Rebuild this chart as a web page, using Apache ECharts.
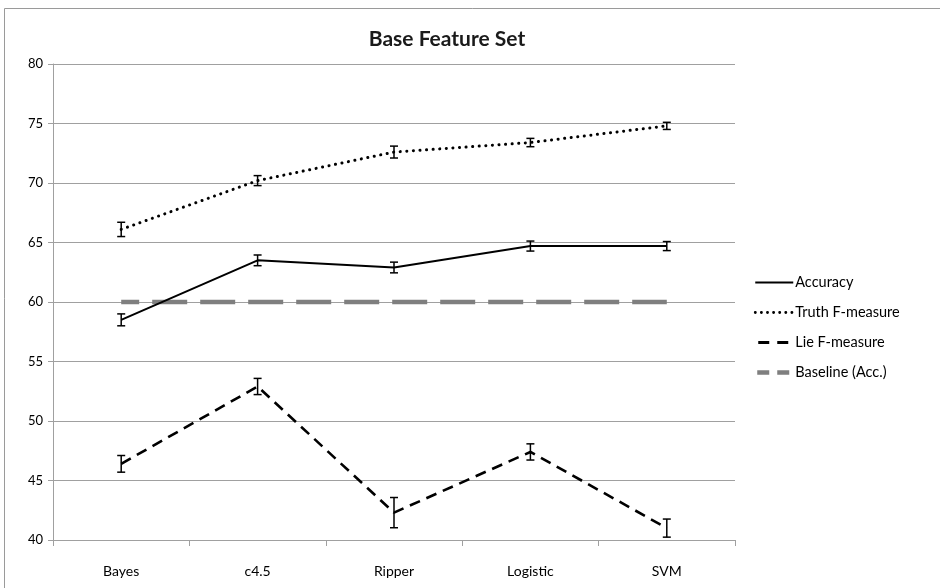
<!DOCTYPE html>
<html>
<head>
<meta charset="utf-8">
<style>
  html, body { margin: 0; padding: 0; background: #ffffff; }
  #chart { width: 940px; height: 588px; }
</style>
<script src="https://cdn.jsdelivr.net/npm/echarts@6/dist/echarts.min.js"></script>
</head>
<body>
<div id="chart"></div>
<script>
// Classifier results on the base feature set
const classifiers = ['Bayes', 'c4.5', 'Ripper', 'Logistic', 'SVM'];

const accuracy    = [58.5, 63.5, 62.9, 64.7, 64.7];
const accuracyErr = [0.5, 0.45, 0.45, 0.42, 0.38];

const truthF      = [66.1, 70.2, 72.6, 73.4, 74.8];
const truthErr    = [0.6, 0.42, 0.5, 0.35, 0.3];

const lieF        = [46.4, 52.9, 42.3, 47.4, 41.0];
const lieErr      = [0.7, 0.68, 1.27, 0.68, 0.76];

const baseline    = [60, 60, 60, 60, 60];

const yTicks = { min: 40, max: 80, interval: 5 };

const FONT = 'Lato, "Liberation Sans", sans-serif';

// Error bar rows: [categoryIndex, low, high]
function errRows(values, errs) {
  return values.map((v, i) => [i, v - errs[i], v + errs[i]]);
}

function errorBarSeries(values, errs) {
  return {
    type: 'custom',
    silent: true,
    z: 5,
    data: errRows(values, errs),
    encode: { x: 0, y: [1, 2] },
    renderItem: function (params, api) {
      const x = api.value(0);
      const lo = api.coord([x, api.value(1)]);
      const hi = api.coord([x, api.value(2)]);
      const cap = 4;
      const style = { stroke: '#000000', lineWidth: 1.5, fill: null };
      return {
        type: 'group',
        children: [
          { type: 'line', shape: { x1: lo[0], y1: lo[1], x2: hi[0], y2: hi[1] }, style: style },
          { type: 'line', shape: { x1: lo[0] - cap, y1: lo[1], x2: lo[0] + cap, y2: lo[1] }, style: style },
          { type: 'line', shape: { x1: hi[0] - cap, y1: hi[1], x2: hi[0] + cap, y2: hi[1] }, style: style }
        ]
      };
    }
  };
}

const chart = echarts.init(document.getElementById('chart'), null, { renderer: 'canvas' });

chart.setOption({
  animation: false,
  backgroundColor: '#ffffff',
  title: {
    text: 'Base Feature Set',
    left: 442,
    top: 24,
    textAlign: 'center',
    textStyle: { fontFamily: FONT, fontSize: 21, fontWeight: 'bold', color: '#1a1a1a' }
  },
  graphic: [{
    type: 'rect',
    shape: { x: 4.5, y: 8.5, width: 960, height: 600 },
    style: { fill: null, stroke: '#9a9a9a', lineWidth: 1 },
    silent: true
  }],
  grid: { left: 53, right: 205, top: 64, bottom: 48 },
  legend: {
    orient: 'vertical',
    left: 748,
    top: 270,
    itemGap: 15,
    itemWidth: 38,
    itemHeight: 16,
    itemStyle: { opacity: 0 },
    textStyle: { fontFamily: FONT, fontSize: 14.5, color: '#000000', padding: [0, 0, 0, -3] },
    data: [
      { name: 'Accuracy', lineStyle: { width: 2 } },
      { name: 'Truth F-measure', lineStyle: { type: [0.1, 6], cap: 'round', width: 2.8 } },
      { name: 'Lie F-measure', lineStyle: { type: [11, 8], dashOffset: -3, width: 3 } },
      { name: 'Baseline (Acc.)', lineStyle: { type: [12, 8], dashOffset: -2, width: 4.5 } }
    ]
  },
  xAxis: {
    type: 'category',
    data: classifiers,
    boundaryGap: true,
    axisLine: { lineStyle: { color: '#a0a0a0', width: 1 } },
    axisTick: { show: true, length: 6, lineStyle: { color: '#a0a0a0' } },
    axisLabel: { margin: 24, fontFamily: FONT, fontSize: 14, color: '#000000' },
    splitLine: { show: false }
  },
  yAxis: {
    type: 'value',
    min: yTicks.min,
    max: yTicks.max,
    interval: yTicks.interval,
    axisLine: { show: true, lineStyle: { color: '#a0a0a0', width: 1 } },
    axisTick: { show: true, inside: false, length: 5, lineStyle: { color: '#a0a0a0' } },
    axisLabel: { margin: 10, fontFamily: FONT, fontSize: 13, color: '#000000' },
    splitLine: { show: true, lineStyle: { color: '#a0a0a0', width: 1 } }
  },
  series: [
    {
      name: 'Baseline (Acc.)',
      type: 'line',
      data: baseline,
      symbol: 'none',
      z: 2,
      lineStyle: { color: '#7f7f7f', width: 4.5, type: [35, 13], dashOffset: 17, cap: 'butt' },
      itemStyle: { color: '#7f7f7f' }
    },
    {
      name: 'Accuracy',
      type: 'line',
      data: accuracy,
      symbol: 'none',
      z: 3,
      lineStyle: { color: '#000000', width: 2, type: 'solid' },
      itemStyle: { color: '#000000' }
    },
    {
      name: 'Truth F-measure',
      type: 'line',
      data: truthF,
      symbol: 'none',
      z: 3,
      lineStyle: { color: '#000000', width: 3, type: [0.1, 6.5], cap: 'round' },
      itemStyle: { color: '#000000' }
    },
    {
      name: 'Lie F-measure',
      type: 'line',
      data: lieF,
      symbol: 'none',
      z: 3,
      lineStyle: { color: '#000000', width: 2.6, type: [11, 7], cap: 'butt' },
      itemStyle: { color: '#000000' }
    },
    errorBarSeries(accuracy, accuracyErr),
    errorBarSeries(truthF, truthErr),
    errorBarSeries(lieF, lieErr)
  ]
});
</script>
</body>
</html>
